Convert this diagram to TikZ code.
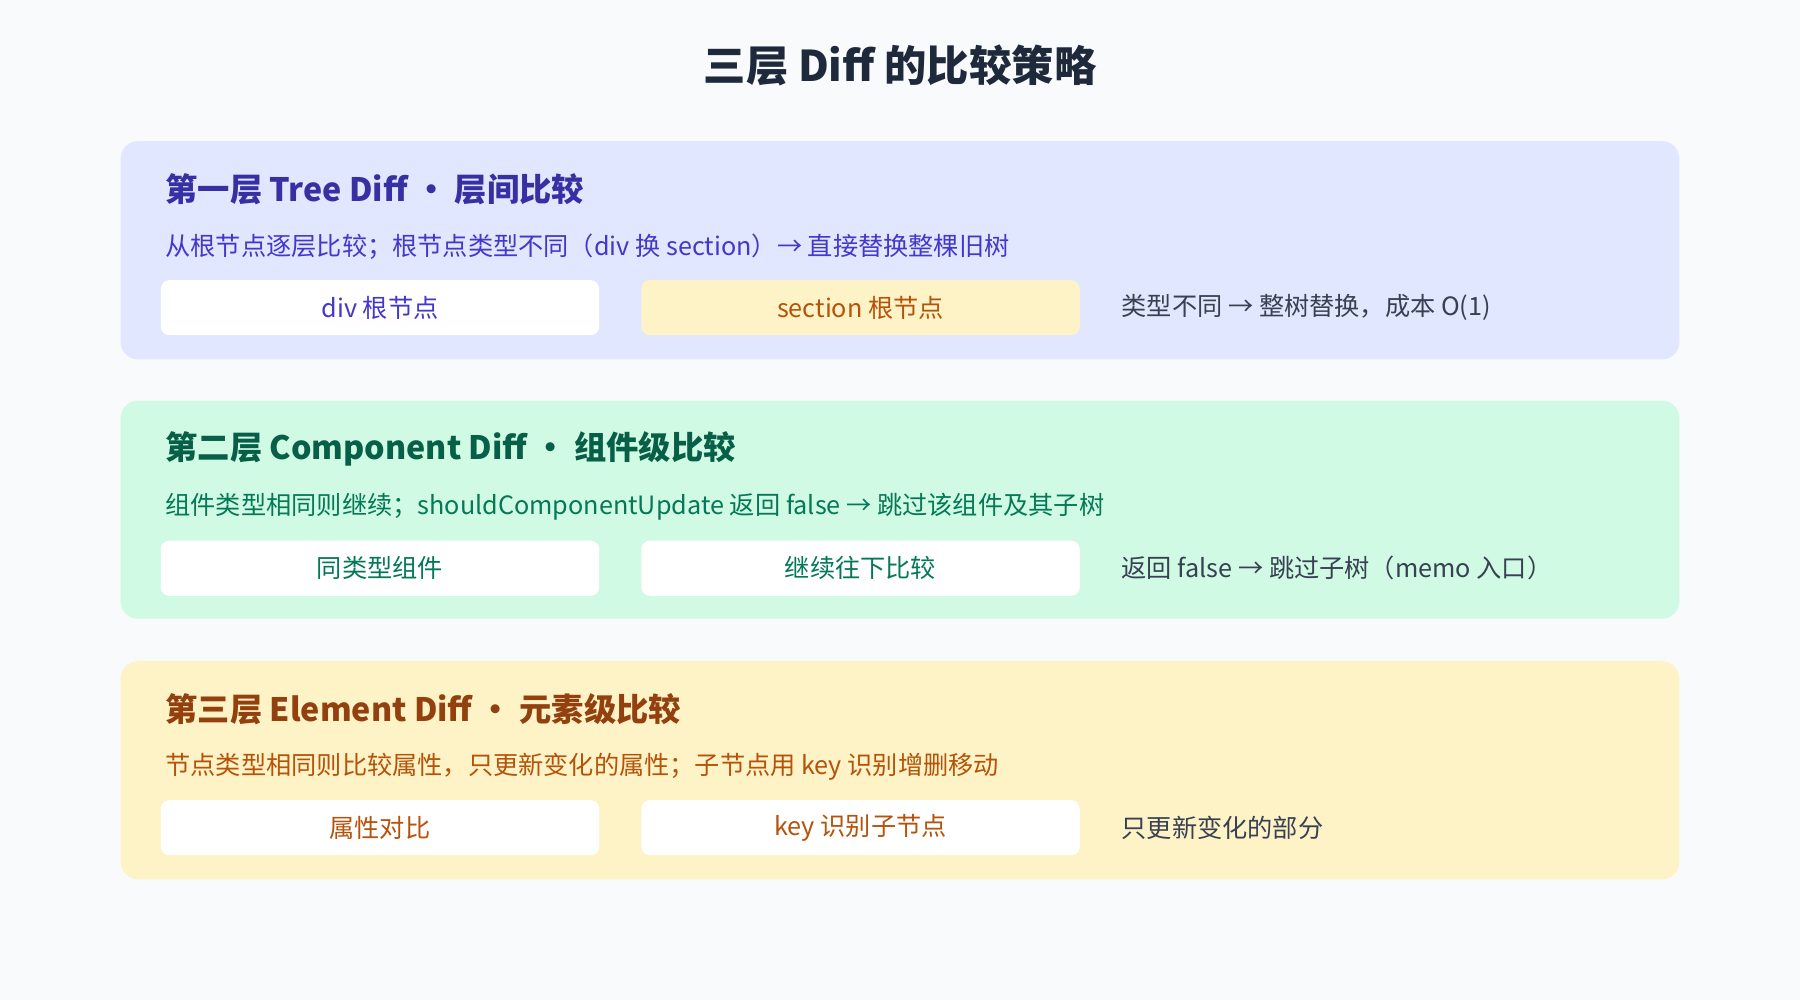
\documentclass[tikz,border=0pt]{standalone}
\usepackage{fontspec}
\setmainfont{Noto Sans CJK SC}
\usetikzlibrary{positioning}
\definecolor{bgc}{HTML}{F8FAFC}
\definecolor{darkt}{HTML}{1E293B}
\definecolor{greyt}{HTML}{374151}
\definecolor{blueb}{HTML}{E0E7FF}
\definecolor{bluet}{HTML}{3730A3}
\definecolor{bluel}{HTML}{4338CA}
\definecolor{greenb}{HTML}{D1FAE5}
\definecolor{greent}{HTML}{065F46}
\definecolor{greenl}{HTML}{047857}
\definecolor{yellb}{HTML}{FEF3C7}
\definecolor{yellt}{HTML}{92400E}
\definecolor{yelll}{HTML}{B45309}
\tikzset{
  panel/.style={rounded corners=0.3cm, draw=none, minimum width=27.16cm, minimum height=3.8cm},
  head/.style={anchor=west, font=\fontsize{16}{18}\selectfont\bfseries},
  sub/.style={anchor=west, font=\fontsize{12.5}{14}\selectfont},
  chip/.style={rounded corners=0.15cm, fill=white, minimum width=7.64cm, minimum height=0.96cm, font=\fontsize{12.5}{14}\selectfont},
  note/.style={anchor=west, text=greyt, font=\fontsize{12.5}{14}\selectfont},
}
\begin{document}
\begin{tikzpicture}[x=0.02cm, y=-0.02cm]
    \useasboundingbox[fill=bgc] (0,0) rectangle (1568,871);
    \node(title) at (784,57) [text=darkt, font=\fontsize{21}{24}\selectfont\bfseries] {三层 Diff 的比较策略};

    % layer 1
    \node(p1) [panel, fill=blueb] at (784,218) {};
    \node(h1) [head, text=bluet] at (138,165) {第一层 Tree Diff • 层间比较};
    \node(s1) [sub, text=bluel] at (138,215) {从根节点逐层比较；根节点类型不同（div 换 section）→ 直接替换整棵旧树};
    \node(a1) [chip, text=bluel] at (331,268) {div 根节点};
    \node(b1) [chip, fill=yellb, text=yelll, right=0.72cm of a1] {section 根节点};
    \node(n1) [note, right=0.6cm of b1] {类型不同 → 整树替换，成本 O(1)};

    % layer 2
    \node(p2) [panel, fill=greenb] at (784,444) {};
    \node(h2) [head, text=greent] at (138,391) {第二层 Component Diff • 组件级比较};
    \node(s2) [sub, text=greenl] at (138,441) {组件类型相同则继续；shouldComponentUpdate 返回 false → 跳过该组件及其子树};
    \node(a2) [chip, text=greenl] at (331,495) {同类型组件};
    \node(b2) [chip, text=greenl, right=0.72cm of a2] {继续往下比较};
    \node(n2) [note, right=0.6cm of b2] {返回 false → 跳过子树（memo 入口）};

    % layer 3
    \node(p3) [panel, fill=yellb] at (784,671) {};
    \node(h3) [head, text=yellt] at (138,618) {第三层 Element Diff • 元素级比较};
    \node(s3) [sub, text=yelll] at (138,668) {节点类型相同则比较属性，只更新变化的属性；子节点用 key 识别增删移动};
    \node(a3) [chip, text=yelll] at (331,721) {属性对比};
    \node(b3) [chip, text=yelll, right=0.72cm of a3] {key 识别子节点};
    \node(n3) [note, right=0.6cm of b3] {只更新变化的部分};
\end{tikzpicture}
\end{document}
